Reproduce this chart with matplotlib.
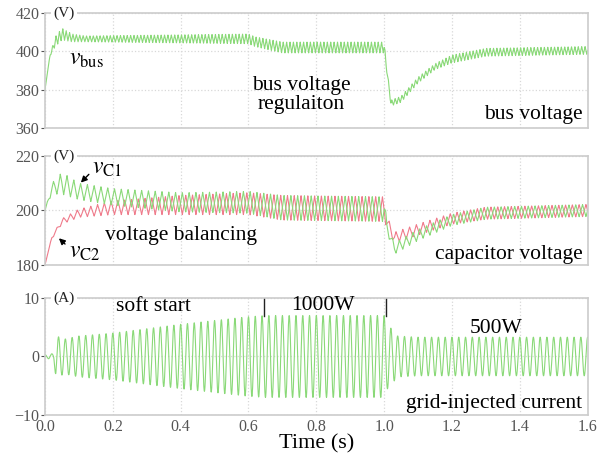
import numpy as np
import matplotlib
matplotlib.use("Agg")
import matplotlib.pyplot as plt

plt.rcParams['font.family'] = ['Liberation Serif', 'DejaVu Serif']
plt.rcParams['mathtext.fontset'] = 'stix'

# grid frequency (Hz): ~10 cycles per 0.2 s
f_grid = 50.0

# bus voltage envelope (s, V)
bus_t = [0, 0.015, 0.03, 0.05, 0.08, 0.12, 0.6, 0.62, 0.7, 1.0, 1.008, 1.02, 1.05, 1.1, 1.15, 1.2, 1.3, 1.6]
bus_mean = [380, 398, 405, 409, 407, 406.5, 406.5, 405, 402, 402, 390, 373, 375, 385, 392, 396, 399.5, 400.5]
bus_amp = [0, 0.5, 2.5, 3, 2, 1.5, 2.5, 2.5, 2.8, 2.8, 1.5, 1.5, 1.5, 1.5, 1.5, 2, 2, 2]

# capacitor voltage envelopes (s, V)
vc_t = [0, 0.02, 0.05, 0.1, 0.2, 0.4, 0.6, 0.7, 1.0, 1.008, 1.03, 1.1, 1.2, 1.3, 1.6]
vc1_mean = [200, 208, 210, 207, 205, 203, 203, 201, 200.5, 194, 186, 191, 196.5, 199, 200]
vc2_mean = [180, 190, 196, 199, 201, 202, 202.5, 201, 200.5, 196, 190, 193, 197, 199, 200]
vc1_amp = [0, 2, 4, 3, 3, 3.5, 4, 4.5, 4.5, 2, 2, 2, 2, 2.2, 2.2]
vc2_amp = [0, 0.5, 1, 1.5, 2.5, 3.5, 4, 4.5, 4.5, 2, 2, 2, 2, 2.2, 2.2]

# grid current amplitude envelope (s, A)
ig_t = [0, 0.025, 0.032, 0.06, 0.1, 0.2, 0.4, 0.6, 0.65, 1.0, 1.01, 1.04, 1.1, 1.6]
ig_amp = [0.3, 0.5, 3.5, 3.0, 3.5, 4.0, 5.5, 6.8, 7.0, 7.0, 5.5, 3.5, 3.3, 3.3]

green = '#8ad978'
red = '#ef7b8b'
grey = '#555555'

t = np.linspace(0, 1.6, 16001)


def tri(x):
    return 2 / np.pi * np.arcsin(np.sin(x))


vbus = np.interp(t, bus_t, bus_mean) + np.interp(t, bus_t, bus_amp) * tri(2 * np.pi * 2 * f_grid * t)
vc1 = np.interp(t, vc_t, vc1_mean) + np.interp(t, vc_t, vc1_amp) * tri(2 * np.pi * f_grid * t)
vc2 = np.interp(t, vc_t, vc2_mean) - np.interp(t, vc_t, vc2_amp) * tri(2 * np.pi * f_grid * t)
ig = np.interp(t, ig_t, ig_amp) * np.cos(2 * np.pi * f_grid * t)

fig = plt.figure(figsize=(6.09, 4.61), dpi=100)
L, W = 0.0739, 0.891
ax1 = fig.add_axes([L, 0.7223, W, 0.2495])
ax2 = fig.add_axes([L, 0.4252, W, 0.2364])
ax3 = fig.add_axes([L, 0.0998, W, 0.2538])

fs = 15.5


def style(ax, ylim, yticks, unit):
    ax.set_xlim(0, 1.6)
    ax.set_ylim(*ylim)
    ax.set_yticks(yticks)
    ax.set_xticks(np.arange(0, 1.61, 0.2))
    for s in ax.spines.values():
        s.set_color('#cccccc')
        s.set_linewidth(1.2)
    ax.grid(True, color='#d8d8d8', linestyle=':', linewidth=0.9)
    ax.tick_params(colors=grey, labelsize=11.5, length=3, width=0.8, pad=1)
    ax.tick_params(axis='x', length=0)
    ax.text(0.015, 1.0, unit, transform=ax.transAxes, fontsize=11, va='center', ha='left',
            color='#222222', bbox=dict(facecolor='white', edgecolor='none', pad=1.5), zorder=5)


style(ax1, (360, 420), [360, 380, 400, 420], '(V)')
ax1.plot(t, vbus, color=green, lw=0.8)
ax1.set_xticklabels([])
ax1.text(0.07, 396, r'$v_{\mathrm{bus}}$', fontsize=17, va='center')
ax1.text(0.755, 382, 'bus voltage', fontsize=fs, ha='center', va='center')
ax1.text(0.755, 372.5, 'regulaiton', fontsize=fs, ha='center', va='center')
ax1.text(1.585, 362, 'bus voltage', fontsize=fs, ha='right', va='bottom')

style(ax2, (180, 220), [180, 200, 220], '(V)')
ax2.plot(t, vc2, color=red, lw=0.8)
ax2.plot(t, vc1, color=green, lw=0.8)
ax2.set_xticklabels([])
ax2.text(0.14, 215.5, r'$v_{\mathrm{C1}}$', fontsize=17, va='center')
ax2.annotate('', xy=(0.1, 209.5), xytext=(0.135, 214),
             arrowprops=dict(arrowstyle='-|>', color='black', lw=1, mutation_scale=9))
ax2.text(0.07, 184.5, r'$v_{\mathrm{C2}}$', fontsize=17, va='center')
ax2.annotate('', xy=(0.035, 190.5), xytext=(0.065, 187),
             arrowprops=dict(arrowstyle='-|>', color='black', lw=1, mutation_scale=9))
ax2.text(0.178, 191, 'voltage balancing', fontsize=fs, ha='left', va='center')
ax2.text(1.585, 180.5, 'capacitor voltage', fontsize=fs, ha='right', va='bottom')

style(ax3, (-10, 10), [-10, 0, 10], '(A)')
ax3.plot(t, ig, color=green, lw=0.8)
ax3.set_xticklabels(['0.0', '0.2', '0.4', '0.6', '0.8', '1.0', '1.2', '1.4', '1.6'])
ax3.tick_params(axis='x', pad=3)
ax3.axvline(0.645, ymin=0.85, ymax=1.0, color='#222222', lw=1)
ax3.axvline(1.005, ymin=0.85, ymax=1.0, color='#222222', lw=1)
ax3.text(0.32, 8.6, 'soft start', fontsize=fs, ha='center', va='center')
ax3.text(0.82, 8.8, '1000W', fontsize=fs, ha='center', va='center')
ax3.text(1.33, 4.8, '500W', fontsize=fs, ha='center', va='center')
ax3.text(1.585, -9.6, 'grid-injected current', fontsize=fs, ha='right', va='bottom')
ax3.set_xlabel('Time (s)', fontsize=16, labelpad=-1)

fig.savefig('out.png', dpi=100)
